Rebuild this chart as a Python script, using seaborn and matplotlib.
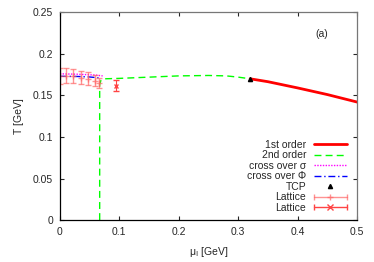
import numpy as np
import seaborn as sns
import matplotlib.pyplot as plt
from matplotlib.lines import Line2D
from matplotlib.legend_handler import HandlerBase

# phase boundaries (mu_I in GeV, T in GeV)
first_mu = [0.32, 0.35, 0.40, 0.45, 0.50]
first_T = [0.170, 0.1665, 0.1590, 0.1510, 0.1420]

second_mu = [0.067, 0.067, 0.069, 0.075, 0.10, 0.15, 0.20, 0.25, 0.28, 0.30, 0.32]
second_T = [0.0, 0.163, 0.168, 0.1700, 0.1705, 0.1720, 0.1735, 0.1740, 0.1735, 0.1720, 0.1700]

sigma_mu = [0.0, 0.03, 0.06, 0.072]
sigma_T = [0.1760, 0.1755, 0.1745, 0.1735]

phi_mu = [0.0, 0.03, 0.05, 0.065]
phi_T = [0.1730, 0.1728, 0.1722, 0.1712]

tcp_mu = [0.32]
tcp_T = [0.170]

# lattice data
lat1_mu = [0.001, 0.011, 0.022, 0.035, 0.047, 0.059, 0.066]
lat1_T = [0.1735, 0.1735, 0.1730, 0.1715, 0.1703, 0.1679, 0.1650]
lat1_err = [0.0095, 0.0090, 0.0085, 0.0080, 0.0075, 0.0070, 0.0065]

lat2_mu = [0.095]
lat2_T = [0.1618]
lat2_err = [0.0062]


class HBar(HandlerBase):
    # gnuplot-like errorbar key: horizontal bar with end caps and a centre marker
    def __init__(self, marker, color, alpha):
        super().__init__()
        self.marker, self.color, self.alpha = marker, color, alpha

    def create_artists(self, legend, orig_handle, xdescent, ydescent, width, height, fontsize, trans):
        y = height / 2 - ydescent
        x0, x1 = -xdescent, width - xdescent
        kw = dict(color=self.color, alpha=self.alpha, transform=trans)
        bar = Line2D([x0, x1], [y, y], lw=1, **kw)
        caps = Line2D([x0, x1], [y, y], ls='none', marker='|', ms=5, mew=1, **kw)
        mid = Line2D([(x0 + x1) / 2], [y], ls='none', marker=self.marker, ms=4, mew=1, **kw)
        return [bar, caps, mid]


sns.set_style("ticks")
plt.rcParams['font.family'] = ['Liberation Sans', 'DejaVu Sans']

fig = plt.figure(figsize=(3.74, 2.62), dpi=100)
ax = fig.add_axes([0.160, 0.160, 0.795, 0.793])

sns.lineplot(x=first_mu, y=first_T, color='#ff0000', lw=2, ax=ax, label='1st order',
             sort=False, estimator=None)
sns.lineplot(x=second_mu, y=second_T, color='#00ff00', lw=1, ls=(0, (5, 3)), ax=ax,
             label='2nd order', sort=False, estimator=None)
sns.lineplot(x=sigma_mu, y=sigma_T, color='#ff00ff', lw=1, ls=(0, (1, 1)), ax=ax,
             label='cross over σ', sort=False, estimator=None)
sns.lineplot(x=phi_mu, y=phi_T, color='#0000ff', lw=1, ls=(0, (5, 2, 1, 2)), ax=ax,
             label='cross over Φ', sort=False, estimator=None)
ax.plot(tcp_mu, tcp_T, '^', color='black', ms=3, ls='none', label='TCP')
e1 = ax.errorbar(lat1_mu, lat1_T, yerr=lat1_err, fmt='+', color='#ff6666', alpha=0.7,
                 ms=4, capsize=2, elinewidth=1, label='Lattice')
e2 = ax.errorbar(lat2_mu, lat2_T, yerr=lat2_err, fmt='x', color='#ff4444',
                 ms=3.5, capsize=2, elinewidth=0.8, label='Lattice')

ax.set_xlim(0, 0.5)
ax.set_ylim(0, 0.25)
ax.set_xticks([0, 0.1, 0.2, 0.3, 0.4, 0.5])
ax.set_xticklabels(['0', '0.1', '0.2', '0.3', '0.4', '0.5'])
ax.set_yticks([0, 0.05, 0.1, 0.15, 0.2, 0.25])
ax.set_yticklabels(['0', '0.05', '0.1', '0.15', '0.2', '0.25'])
ax.tick_params(direction='in', top=True, right=True, length=3, width=0.8,
               labelsize=7.5, pad=5)
for s in ['left', 'bottom']:
    ax.spines[s].set_color('black')
for s in ['top', 'right']:
    ax.spines[s].set_color('#777777')
for s in ax.spines.values():
    s.set_linewidth(0.9)

ax.set_xlabel('μ$_\\mathrm{I}$ [GeV]', fontsize=7.5, labelpad=6)
ax.set_ylabel('T [GeV]', fontsize=7.5, labelpad=6)
ax.text(0.441, 0.224, '(a)', fontsize=7.5, ha='center', va='center')

handles, labels = ax.get_legend_handles_labels()
ax.legend(handles, labels, loc='lower right', bbox_to_anchor=(0.99, 0.0), frameon=False,
          markerfirst=False, fontsize=7.5, handlelength=3.2, handletextpad=0.7,
          labelspacing=0.05, borderpad=0.2,
          handler_map={e1: HBar('+', '#ff6666', 0.7), e2: HBar('x', '#ff4444', 1.0)})

fig.savefig('out.png', dpi=100)
